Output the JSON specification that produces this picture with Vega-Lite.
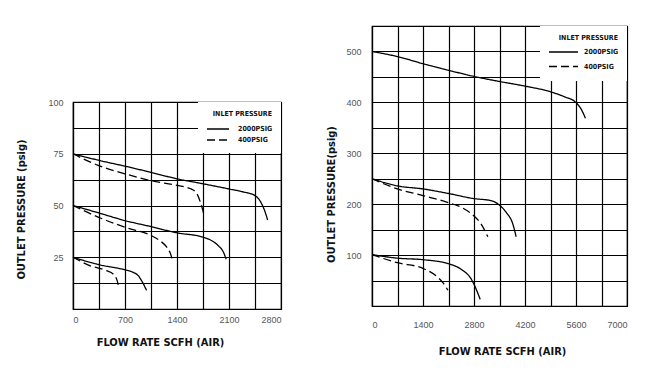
{
  "$schema": "https://vega.github.io/schema/vega-lite/v6.json",
  "background": "white",
  "padding": {"left": 14, "top": 25, "right": 5, "bottom": 0},
  "spacing": 42,
  "config": {
    "view": {"stroke": "black", "strokeWidth": 1.2},
    "font": "Liberation Sans",
    "axis": {
      "grid": true, "gridColor": "black", "gridOpacity": 1, "gridWidth": 1.2,
      "domain": true, "domainColor": "black", "domainWidth": 1.2,
      "ticks": false,
      "labelFont": "Liberation Sans", "labelFontSize": 9, "labelColor": "#555",
      "titleFont": "DejaVu Sans Condensed", "titleFontSize": 11, "titleFontWeight": "bold", "titleColor": "#111",
      "titleBaseline": "middle", "titleAlign": "center"
    },
    "legend": {
      "titleFont": "DejaVu Sans Condensed", "titleFontSize": 7, "titleFontWeight": "bold", "titleColor": "#111",
      "labelFont": "DejaVu Sans Condensed", "labelFontSize": 7, "labelFontWeight": "bold", "labelColor": "#111",
      "fillColor": "white", "symbolType": "stroke", "symbolStrokeColor": "black", "symbolStrokeWidth": 1.5,
      "titleAnchor": "end", "labelAlign": "left",
      "labelExpr": "datum.label == '400PSIG' ? ' 400PSIG' : datum.label"
    }
  },
  "resolve": {"scale": {"strokeDash": "independent"}, "legend": {"strokeDash": "independent"}},
  "datasets": {
    "left": [
      {"curve": "a2000", "inlet": "2000PSIG", "flow": 0, "pressure": 75},
      {"curve": "a2000", "inlet": "2000PSIG", "flow": 338, "pressure": 71.9},
      {"curve": "a2000", "inlet": "2000PSIG", "flow": 700, "pressure": 69},
      {"curve": "a2000", "inlet": "2000PSIG", "flow": 1050, "pressure": 66},
      {"curve": "a2000", "inlet": "2000PSIG", "flow": 1400, "pressure": 62.9},
      {"curve": "a2000", "inlet": "2000PSIG", "flow": 1750, "pressure": 60.5},
      {"curve": "a2000", "inlet": "2000PSIG", "flow": 2100, "pressure": 58},
      {"curve": "a2000", "inlet": "2000PSIG", "flow": 2300, "pressure": 56.5},
      {"curve": "a2000", "inlet": "2000PSIG", "flow": 2450, "pressure": 54.8},
      {"curve": "a2000", "inlet": "2000PSIG", "flow": 2530, "pressure": 51.5},
      {"curve": "a2000", "inlet": "2000PSIG", "flow": 2580, "pressure": 47.5},
      {"curve": "a2000", "inlet": "2000PSIG", "flow": 2620, "pressure": 43},
      {"curve": "a400", "inlet": "400PSIG", "flow": 0, "pressure": 75},
      {"curve": "a400", "inlet": "400PSIG", "flow": 135, "pressure": 72.6},
      {"curve": "a400", "inlet": "400PSIG", "flow": 338, "pressure": 69.4},
      {"curve": "a400", "inlet": "400PSIG", "flow": 700, "pressure": 65.3},
      {"curve": "a400", "inlet": "400PSIG", "flow": 1050, "pressure": 62},
      {"curve": "a400", "inlet": "400PSIG", "flow": 1400, "pressure": 59.7},
      {"curve": "a400", "inlet": "400PSIG", "flow": 1576, "pressure": 58.2},
      {"curve": "a400", "inlet": "400PSIG", "flow": 1666, "pressure": 55.8},
      {"curve": "a400", "inlet": "400PSIG", "flow": 1711, "pressure": 52},
      {"curve": "a400", "inlet": "400PSIG", "flow": 1745, "pressure": 48},
      {"curve": "a400", "inlet": "400PSIG", "flow": 1765, "pressure": 45},
      {"curve": "b2000", "inlet": "2000PSIG", "flow": 0, "pressure": 50},
      {"curve": "b2000", "inlet": "2000PSIG", "flow": 338, "pressure": 46.5},
      {"curve": "b2000", "inlet": "2000PSIG", "flow": 700, "pressure": 42.7},
      {"curve": "b2000", "inlet": "2000PSIG", "flow": 1050, "pressure": 39.8},
      {"curve": "b2000", "inlet": "2000PSIG", "flow": 1400, "pressure": 36.8},
      {"curve": "b2000", "inlet": "2000PSIG", "flow": 1750, "pressure": 34.7},
      {"curve": "b2000", "inlet": "2000PSIG", "flow": 1868, "pressure": 33},
      {"curve": "b2000", "inlet": "2000PSIG", "flow": 1958, "pressure": 30.5},
      {"curve": "b2000", "inlet": "2000PSIG", "flow": 2026, "pressure": 27.4},
      {"curve": "b2000", "inlet": "2000PSIG", "flow": 2062, "pressure": 24},
      {"curve": "b400", "inlet": "400PSIG", "flow": 0, "pressure": 50},
      {"curve": "b400", "inlet": "400PSIG", "flow": 338, "pressure": 44.4},
      {"curve": "b400", "inlet": "400PSIG", "flow": 700, "pressure": 39.5},
      {"curve": "b400", "inlet": "400PSIG", "flow": 1050, "pressure": 35.5},
      {"curve": "b400", "inlet": "400PSIG", "flow": 1170, "pressure": 33},
      {"curve": "b400", "inlet": "400PSIG", "flow": 1260, "pressure": 30},
      {"curve": "b400", "inlet": "400PSIG", "flow": 1305, "pressure": 27.4},
      {"curve": "b400", "inlet": "400PSIG", "flow": 1341, "pressure": 23.5},
      {"curve": "c2000", "inlet": "2000PSIG", "flow": 0, "pressure": 25},
      {"curve": "c2000", "inlet": "2000PSIG", "flow": 338, "pressure": 21.5},
      {"curve": "c2000", "inlet": "2000PSIG", "flow": 700, "pressure": 18.9},
      {"curve": "c2000", "inlet": "2000PSIG", "flow": 810, "pressure": 17.7},
      {"curve": "c2000", "inlet": "2000PSIG", "flow": 878, "pressure": 16.1},
      {"curve": "c2000", "inlet": "2000PSIG", "flow": 923, "pressure": 13.7},
      {"curve": "c2000", "inlet": "2000PSIG", "flow": 990, "pressure": 9},
      {"curve": "c400", "inlet": "400PSIG", "flow": 0, "pressure": 25},
      {"curve": "c400", "inlet": "400PSIG", "flow": 225, "pressure": 21},
      {"curve": "c400", "inlet": "400PSIG", "flow": 450, "pressure": 18.5},
      {"curve": "c400", "inlet": "400PSIG", "flow": 540, "pressure": 16.9},
      {"curve": "c400", "inlet": "400PSIG", "flow": 594, "pressure": 13.7},
      {"curve": "c400", "inlet": "400PSIG", "flow": 621, "pressure": 9.7}
    ],
    "right": [
      {"curve": "a2000", "inlet": "2000PSIG", "flow": 0, "pressure": 500},
      {"curve": "a2000", "inlet": "2000PSIG", "flow": 694, "pressure": 490},
      {"curve": "a2000", "inlet": "2000PSIG", "flow": 1398, "pressure": 476},
      {"curve": "a2000", "inlet": "2000PSIG", "flow": 2102, "pressure": 463},
      {"curve": "a2000", "inlet": "2000PSIG", "flow": 2796, "pressure": 451},
      {"curve": "a2000", "inlet": "2000PSIG", "flow": 3500, "pressure": 441},
      {"curve": "a2000", "inlet": "2000PSIG", "flow": 4194, "pressure": 432},
      {"curve": "a2000", "inlet": "2000PSIG", "flow": 4889, "pressure": 421},
      {"curve": "a2000", "inlet": "2000PSIG", "flow": 5282, "pressure": 411},
      {"curve": "a2000", "inlet": "2000PSIG", "flow": 5593, "pressure": 400},
      {"curve": "a2000", "inlet": "2000PSIG", "flow": 5739, "pressure": 387},
      {"curve": "a2000", "inlet": "2000PSIG", "flow": 5858, "pressure": 369},
      {"curve": "b2000", "inlet": "2000PSIG", "flow": 0, "pressure": 250},
      {"curve": "b2000", "inlet": "2000PSIG", "flow": 694, "pressure": 236},
      {"curve": "b2000", "inlet": "2000PSIG", "flow": 1398, "pressure": 230},
      {"curve": "b2000", "inlet": "2000PSIG", "flow": 2102, "pressure": 221},
      {"curve": "b2000", "inlet": "2000PSIG", "flow": 2796, "pressure": 211},
      {"curve": "b2000", "inlet": "2000PSIG", "flow": 3271, "pressure": 207},
      {"curve": "b2000", "inlet": "2000PSIG", "flow": 3500, "pressure": 198},
      {"curve": "b2000", "inlet": "2000PSIG", "flow": 3683, "pressure": 184},
      {"curve": "b2000", "inlet": "2000PSIG", "flow": 3866, "pressure": 161},
      {"curve": "b2000", "inlet": "2000PSIG", "flow": 3957, "pressure": 136},
      {"curve": "b400", "inlet": "400PSIG", "flow": 0, "pressure": 250},
      {"curve": "b400", "inlet": "400PSIG", "flow": 694, "pressure": 230},
      {"curve": "b400", "inlet": "400PSIG", "flow": 1398, "pressure": 217},
      {"curve": "b400", "inlet": "400PSIG", "flow": 2102, "pressure": 203},
      {"curve": "b400", "inlet": "400PSIG", "flow": 2449, "pressure": 194},
      {"curve": "b400", "inlet": "400PSIG", "flow": 2796, "pressure": 177},
      {"curve": "b400", "inlet": "400PSIG", "flow": 2997, "pressure": 161},
      {"curve": "b400", "inlet": "400PSIG", "flow": 3180, "pressure": 136},
      {"curve": "c2000", "inlet": "2000PSIG", "flow": 0, "pressure": 101},
      {"curve": "c2000", "inlet": "2000PSIG", "flow": 694, "pressure": 94},
      {"curve": "c2000", "inlet": "2000PSIG", "flow": 1398, "pressure": 91},
      {"curve": "c2000", "inlet": "2000PSIG", "flow": 2102, "pressure": 83},
      {"curve": "c2000", "inlet": "2000PSIG", "flow": 2449, "pressure": 72},
      {"curve": "c2000", "inlet": "2000PSIG", "flow": 2723, "pressure": 53},
      {"curve": "c2000", "inlet": "2000PSIG", "flow": 2860, "pressure": 33},
      {"curve": "c2000", "inlet": "2000PSIG", "flow": 2970, "pressure": 13},
      {"curve": "c400", "inlet": "400PSIG", "flow": 0, "pressure": 101},
      {"curve": "c400", "inlet": "400PSIG", "flow": 694, "pressure": 85},
      {"curve": "c400", "inlet": "400PSIG", "flow": 1398, "pressure": 74},
      {"curve": "c400", "inlet": "400PSIG", "flow": 1764, "pressure": 59},
      {"curve": "c400", "inlet": "400PSIG", "flow": 1946, "pressure": 46},
      {"curve": "c400", "inlet": "400PSIG", "flow": 2083, "pressure": 31}
    ]
  },
  "hconcat": [
    {
      "spacing": 0,
      "resolve": {"scale": {"strokeDash": "independent"}, "legend": {"strokeDash": "independent"}},
      "vconcat": [
        {
          "width": 208, "height": 71,
          "view": {"stroke": null},
          "data": {"values": []},
          "mark": "point"
        },
        {
          "width": 208, "height": 207,
          "data": {"name": "left"},
          "mark": {"type": "line", "interpolate": "monotone", "color": "black", "strokeWidth": 1.3},
          "encoding": {
            "x": {"field": "flow", "type": "quantitative",
              "scale": {"domain": [0, 2800], "nice": false},
              "axis": {"values": [0, 350, 700, 1050, 1400, 1750, 2100, 2450, 2800], "format": "d",
                "labelExpr": "datum.value % 700 == 0 ? datum.label : ''", "labelPadding": 6,
                "title": "FLOW RATE SCFH (AIR)", "titleX": 87, "titleY": 33}},
            "y": {"field": "pressure", "type": "quantitative",
              "scale": {"domain": [0, 100], "nice": false},
              "axis": {"values": [0, 12.5, 25, 37.5, 50, 62.5, 75, 87.5, 100], "format": "d",
                "labelExpr": "datum.value % 25 == 0 && datum.value > 0 ? datum.label : ''", "labelPadding": 10,
                "title": "OUTLET PRESSURE (psig)", "titleAngle": -90, "titleX": -52, "titleY": 107}},
            "detail": {"field": "curve"},
            "strokeDash": {"field": "inlet", "type": "nominal",
              "scale": {"domain": ["2000PSIG", "400PSIG"], "range": [[1, 0], [8, 4]]},
              "legend": {"title": "INLET PRESSURE", "orient": "top-right", "offset": 0, "padding": 8,
                "symbolSize": 484, "clipHeight": 10, "rowPadding": 1, "titlePadding": 7, "labelOffset": 8}}
          }
        }
      ]
    },
    {
      "width": 255, "height": 280,
      "data": {"name": "right"},
      "mark": {"type": "line", "interpolate": "monotone", "color": "black", "strokeWidth": 1.3},
      "encoding": {
        "x": {"field": "flow", "type": "quantitative",
          "scale": {"domain": [0, 7000], "nice": false},
          "axis": {"values": [0, 700, 1400, 2100, 2800, 3500, 4200, 4900, 5600, 6300, 7000], "format": "d",
            "labelExpr": "datum.value % 1400 == 0 ? datum.label : ''", "labelPadding": 14,
            "title": "FLOW RATE SCFH (AIR)", "titleX": 130, "titleY": 45}},
        "y": {"field": "pressure", "type": "quantitative",
          "scale": {"domain": [0, 550], "nice": false},
          "axis": {"values": [0, 50, 100, 150, 200, 250, 300, 350, 400, 450, 500, 550], "format": "d",
            "labelExpr": "datum.value % 100 == 0 && datum.value > 0 ? datum.label : ''", "labelPadding": 11,
            "title": "OUTLET PRESSURE(psig)", "titleAngle": -90, "titleX": -41, "titleY": 168}},
        "detail": {"field": "curve"},
        "strokeDash": {"field": "inlet", "type": "nominal",
          "scale": {"domain": ["2000PSIG", "400PSIG"], "range": [[1, 0], [8, 4]]},
          "legend": {"title": "INLET PRESSURE", "orient": "top-right", "offset": 0, "padding": 8,
            "symbolSize": 841, "clipHeight": 12, "rowPadding": 2.5, "titlePadding": 5, "labelOffset": 5}}
      }
    }
  ]
}
